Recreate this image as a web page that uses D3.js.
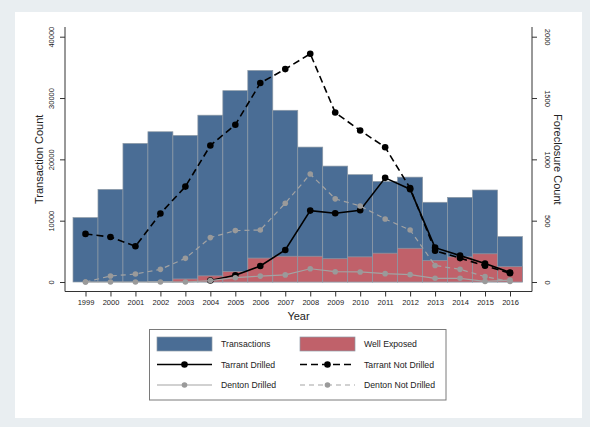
<!DOCTYPE html>
<html>
<head>
<meta charset="utf-8">
<script src="https://cdn.jsdelivr.net/npm/d3@7"></script>
<style>
  html, body { margin: 0; padding: 0; background: #e9eef1; }
  svg { display: block; }
  text { font-family: "Liberation Sans", Arial, sans-serif; fill: #222; }
</style>
</head>
<body>
<svg id="chart" width="590" height="427"></svg>
<script>
// Yearly housing market series
const years = [1999, 2000, 2001, 2002, 2003, 2004, 2005, 2006, 2007, 2008,
               2009, 2010, 2011, 2012, 2013, 2014, 2015, 2016];
// Left axis (transaction counts)
const transactions = [10500, 15100, 22600, 24500, 23900, 27200, 31200, 34500, 28000, 22000,
                      18900, 17500, 16400, 17100, 13000, 13800, 15000, 7400];
const wellExposed = [0, 0, 0, 100, 500, 1000, 1700, 3900, 4200, 4200,
                     3800, 4100, 4700, 5500, 3500, 4100, 4600, 2500];
// Right axis (foreclosure counts)
const tarrantDrilled = [null, null, null, null, null, 12, 55, 131, 261, 582,
                        561, 585, 849, 757, 280, 215, 150, 78];
const tarrantNotDrilled = [392, 367, 291, 558, 778, 1113, 1282, 1622, 1736, 1861,
                           1382, 1235, 1099, 765, 255, 195, 132, 72];
const dentonDrilled = [0, 0, 0, 0, 0, 12, 35, 48, 58, 108,
                       84, 82, 68, 60, 30, 30, 5, 16];
const dentonNotDrilled = [0, 49, 65, 103, 193, 362, 419, 424, 642, 880,
                          678, 620, 514, 424, 135, 103, 44, 5];
// Axis ticks
const leftTicks = [0, 10000, 20000, 30000, 40000];
const rightTicks = [0, 500, 1000, 1500, 2000];

const svg = d3.select("#chart");

// White graph panel
svg.append("rect").attr("x", 15).attr("y", 12).attr("width", 567).attr("height", 406)
  .attr("fill", "#ffffff");

const x = d3.scaleLinear().domain([1999, 2016]).range([85.5, 510]);
const step = x(2000) - x(1999);
const yL = d3.scaleLinear().domain([0, 40000]).range([282, 36.7]);
const yR = d3.scaleLinear().domain([0, 2000]).range([282, 36.7]);

const plotLeft = 65, plotRight = 532, plotTop = 27, plotBottom = 291.5;

const BLUE = "#4a6d95", RED = "#c0616a", BAR_EDGE = "#8e9aa6";
const GREY = "#a3a3a3", GREY_PT = "#9a9a9a";

// Bars
const g = svg.append("g");
g.selectAll("rect.tx").data(years).join("rect").attr("class", "tx")
  .attr("x", d => x(d) - step / 2).attr("width", step)
  .attr("y", (d, i) => yL(transactions[i]))
  .attr("height", (d, i) => yL(0) - yL(transactions[i]))
  .attr("fill", BLUE).attr("stroke", BAR_EDGE).attr("stroke-width", 0.7);

g.selectAll("rect.we").data(years).join("rect").attr("class", "we")
  .attr("x", d => x(d) - step / 2).attr("width", step)
  .attr("y", (d, i) => yL(wellExposed[i]))
  .attr("height", (d, i) => yL(0) - yL(wellExposed[i]))
  .attr("fill", RED).attr("stroke", BAR_EDGE).attr("stroke-width", 0.7)
  .attr("stroke-opacity", (d, i) => wellExposed[i] > 0 ? 1 : 0);

// Foreclosure lines
function series(values, color, width, dash, r) {
  const pts = years.map((yr, i) => ({ yr, v: values[i] })).filter(p => p.v !== null);
  const line = d3.line().x(p => x(p.yr)).y(p => yR(p.v));
  g.append("path").datum(pts).attr("d", line)
    .attr("fill", "none").attr("stroke", color).attr("stroke-width", width)
    .attr("stroke-dasharray", dash);
  g.append("g").selectAll("circle").data(pts).join("circle")
    .attr("cx", p => x(p.yr)).attr("cy", p => yR(p.v)).attr("r", r)
    .attr("fill", color === "#000" ? "#000" : GREY_PT);
}
series(tarrantDrilled, "#000", 1.6, null, 3.3);
series(tarrantNotDrilled, "#000", 1.6, "7,4", 3.3);
series(dentonDrilled, GREY, 1.2, null, 2.8);
series(dentonNotDrilled, GREY, 1.2, "5,4", 2.8);

// Axes
const axisColor = "#333";
const axG = svg.append("g");

const left = axG.append("g").attr("transform", `translate(${plotLeft},0)`)
  .call(d3.axisLeft(yL).tickValues(leftTicks).tickSize(5).tickFormat(d3.format("d")));
left.select(".domain").remove();
left.selectAll("line").attr("stroke", axisColor);
left.selectAll("text").attr("x", 0).attr("y", 0).attr("dy", "0.35em")
  .attr("text-anchor", "middle").attr("transform", "translate(-14,0) rotate(-90)")
  .style("font-size", "7.5px").style("font-family", "Liberation Sans, Arial, sans-serif");

const right = axG.append("g").attr("transform", `translate(${plotRight},0)`)
  .call(d3.axisRight(yR).tickValues(rightTicks).tickSize(5).tickFormat(d3.format("d")));
right.select(".domain").remove();
right.selectAll("line").attr("stroke", axisColor);
right.selectAll("text").attr("x", 0).attr("y", 0).attr("dy", "0.35em")
  .attr("text-anchor", "middle").attr("transform", "translate(16,0) rotate(90)")
  .style("font-size", "7.5px").style("font-family", "Liberation Sans, Arial, sans-serif");

const bottom = axG.append("g").attr("transform", `translate(0,${plotBottom})`)
  .call(d3.axisBottom(x).tickValues(years).tickSize(5).tickFormat(d3.format("d")));
bottom.select(".domain").remove();
bottom.selectAll("line").attr("stroke", axisColor);
bottom.selectAll("text").attr("y", 8)
  .style("font-size", "7.5px").style("font-family", "Liberation Sans, Arial, sans-serif");

// Axis lines
axG.append("path")
  .attr("d", `M${plotLeft},${plotTop}V${plotBottom}H${plotRight}V${plotTop}`)
  .attr("fill", "none").attr("stroke", axisColor).attr("stroke-width", 1);

// Axis titles
svg.append("text").attr("transform", `translate(39,${yL(20000)}) rotate(-90)`)
  .attr("text-anchor", "middle").attr("dy", "0.35em").style("font-size", "11px")
  .text("Transaction Count");
svg.append("text").attr("transform", `translate(558,${yR(1000)}) rotate(90)`)
  .attr("text-anchor", "middle").attr("dy", "0.35em").style("font-size", "11px")
  .text("Foreclosure Count");
svg.append("text").attr("x", (plotLeft + plotRight) / 2).attr("y", 316)
  .attr("text-anchor", "middle").attr("dy", "0.35em").style("font-size", "11px")
  .text("Year");

// Legend
const legendItems = [
  { label: "Transactions", type: "bar", color: BLUE },
  { label: "Well Exposed", type: "bar", color: RED },
  { label: "Tarrant Drilled", type: "line", color: "#000", dash: null, w: 1.6, r: 3.3 },
  { label: "Tarrant Not Drilled", type: "line", color: "#000", dash: "7,4", w: 1.6, r: 3.3 },
  { label: "Denton Drilled", type: "line", color: GREY, dash: null, w: 1.2, r: 2.8 },
  { label: "Denton Not Drilled", type: "line", color: GREY, dash: "5,4", w: 1.2, r: 2.8 }
];
const lg = svg.append("g");
lg.append("rect").attr("x", 149.5).attr("y", 329.5).attr("width", 296.5).attr("height", 70.5)
  .attr("fill", "#fff").attr("stroke", "#7a7a7a").attr("stroke-width", 1);
const colX = [157, 300], rowY = [344, 364.5, 385];
legendItems.forEach((it, i) => {
  const kx = colX[i % 2], ky = rowY[Math.floor(i / 2)];
  if (it.type === "bar") {
    lg.append("rect").attr("x", kx).attr("y", ky - 7).attr("width", 55).attr("height", 14)
      .attr("fill", it.color).attr("stroke", BAR_EDGE).attr("stroke-width", 0.7);
  } else {
    lg.append("line").attr("x1", kx).attr("x2", kx + 55).attr("y1", ky).attr("y2", ky)
      .attr("stroke", it.color).attr("stroke-width", it.w).attr("stroke-dasharray", it.dash);
    lg.append("circle").attr("cx", kx + 27.5).attr("cy", ky).attr("r", it.r)
      .attr("fill", it.color === "#000" ? "#000" : GREY_PT);
  }
  lg.append("text").attr("x", kx + 64).attr("y", ky).attr("dy", "0.35em")
    .style("font-size", "8.7px").text(it.label);
});
</script>
</body>
</html>
